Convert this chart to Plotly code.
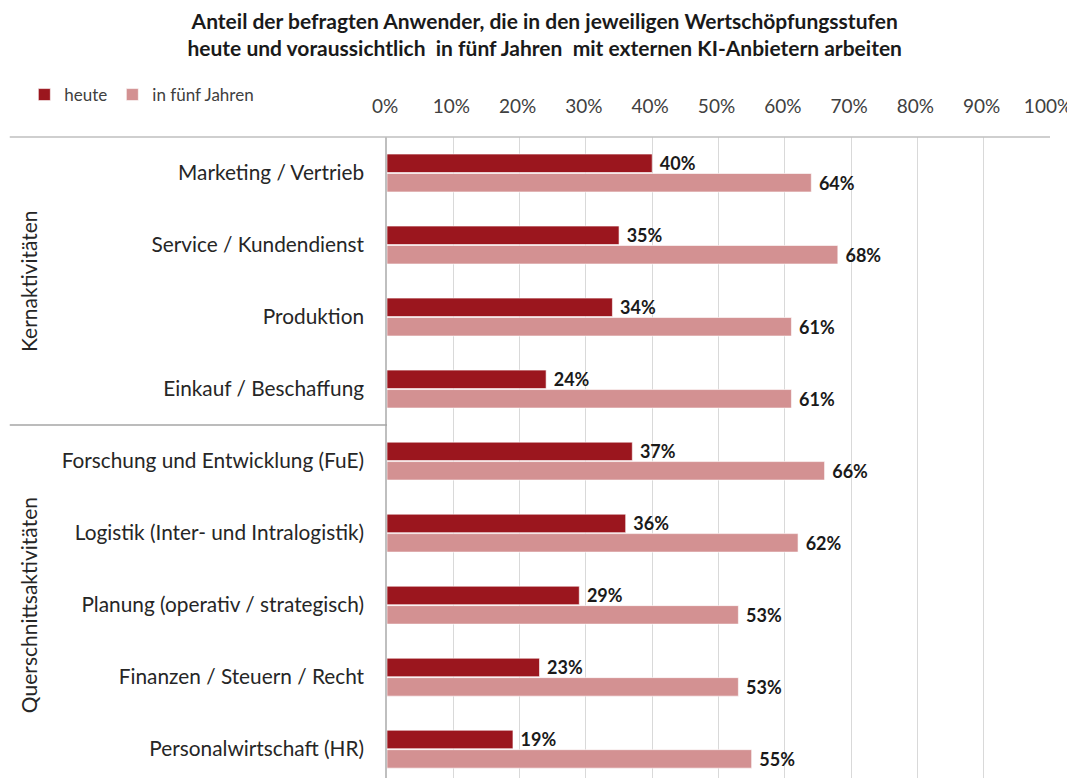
import plotly.graph_objects as go

categories = [
    "Marketing / Vertrieb",
    "Service / Kundendienst",
    "Produktion",
    "Einkauf / Beschaffung",
    "Forschung und Entwicklung (FuE)",
    "Logistik (Inter- und Intralogistik)",
    "Planung (operativ / strategisch)",
    "Finanzen / Steuern / Recht",
    "Personalwirtschaft (HR)",
]
heute = [40, 35, 34, 24, 37, 36, 29, 23, 19]
fuenf_jahre = [64, 68, 61, 61, 66, 62, 53, 53, 55]
series_names = ["heute", "in fünf Jahren"]
groups = ["Kernaktivitäten", "Querschnittsaktivitäten"]
group_centers = [1.5, 6.0]
group_split = 3.5
tick_vals = [0, 10, 20, 30, 40, 50, 60, 70, 80, 90, 100]
tick_text = [f"{v}%" for v in tick_vals]

title = ("<b>Anteil der befragten Anwender, die in den jeweiligen Wertschöpfungsstufen<br>"
         "heute und voraussichtlich  in fünf Jahren  mit externen KI-Anbietern arbeiten</b>")

FONT = "Lato"
c_heute = "#9B161E"
c_future = "#D39192"

fig = go.Figure()
for name, vals, col in [(series_names[0], heute, c_heute), (series_names[1], fuenf_jahre, c_future)]:
    fig.add_trace(go.Bar(
        y=categories, x=vals, name=name, orientation="h",
        marker=dict(color=col, line=dict(color="rgba(255,255,255,0.6)", width=1)),
        text=[f"\u00a0<b>{v}%</b>" for v in vals],
        textposition="outside", cliponaxis=False, constraintext="none",
        textfont=dict(family=FONT, size=18, color="#1a1a1a"),
    ))

fig.update_layout(
    width=1067, height=770,
    margin=dict(l=379, r=25, t=129, b=0),
    plot_bgcolor="white", paper_bgcolor="white",
    barmode="group", bargap=0.46, bargroupgap=0.05,
    title=dict(text=title, x=0.503, xref="container", xanchor="center", y=0.973, yanchor="top",
               font=dict(family=FONT, size=21, color="#1a1a1a")),
    legend=dict(orientation="h", x=-0.547, y=1.0655, xanchor="left", yanchor="middle",
                font=dict(family=FONT, size=17, color="#404040"), traceorder="normal",
                itemwidth=30, bgcolor="rgba(0,0,0,0)"),
    showlegend=True,
)
fig.update_xaxes(
    side="top", range=[0, 100], tickvals=tick_vals, ticktext=tick_text,
    showgrid=True, gridcolor="#d9d9d9", gridwidth=1, zeroline=False,
    tickfont=dict(family=FONT, size=19, color="#404040"), ticks="", ticklabelstandoff=19,
    ticklabelshift=-2, showline=False,
)
fig.update_yaxes(
    range=[8.40, -0.5], showline=True, linecolor="#bfbfbf", linewidth=1.5,
    tickfont=dict(family=FONT, size=20.8, color="#262626"), ticks="", ticklabelstandoff=17,
    showgrid=False,
)

# separators
fig.add_shape(type="line", xref="paper", yref="paper", x0=-0.569, x1=1, y0=1, y1=1,
              line=dict(color="#bfbfbf", width=1.5))
fig.add_shape(type="line", xref="paper", yref="y", x0=-0.569, x1=0, y0=group_split, y1=group_split,
              line=dict(color="#a6a6a6", width=1.5))

for g, yc in zip(groups, group_centers):
    fig.add_annotation(text=g, xref="paper", yref="y", x=-0.5415, y=yc, textangle=-90,
                       showarrow=False, xanchor="center", yanchor="middle",
                       font=dict(family=FONT, size=21, color="#262626"))

fig.write_html("out.html")
